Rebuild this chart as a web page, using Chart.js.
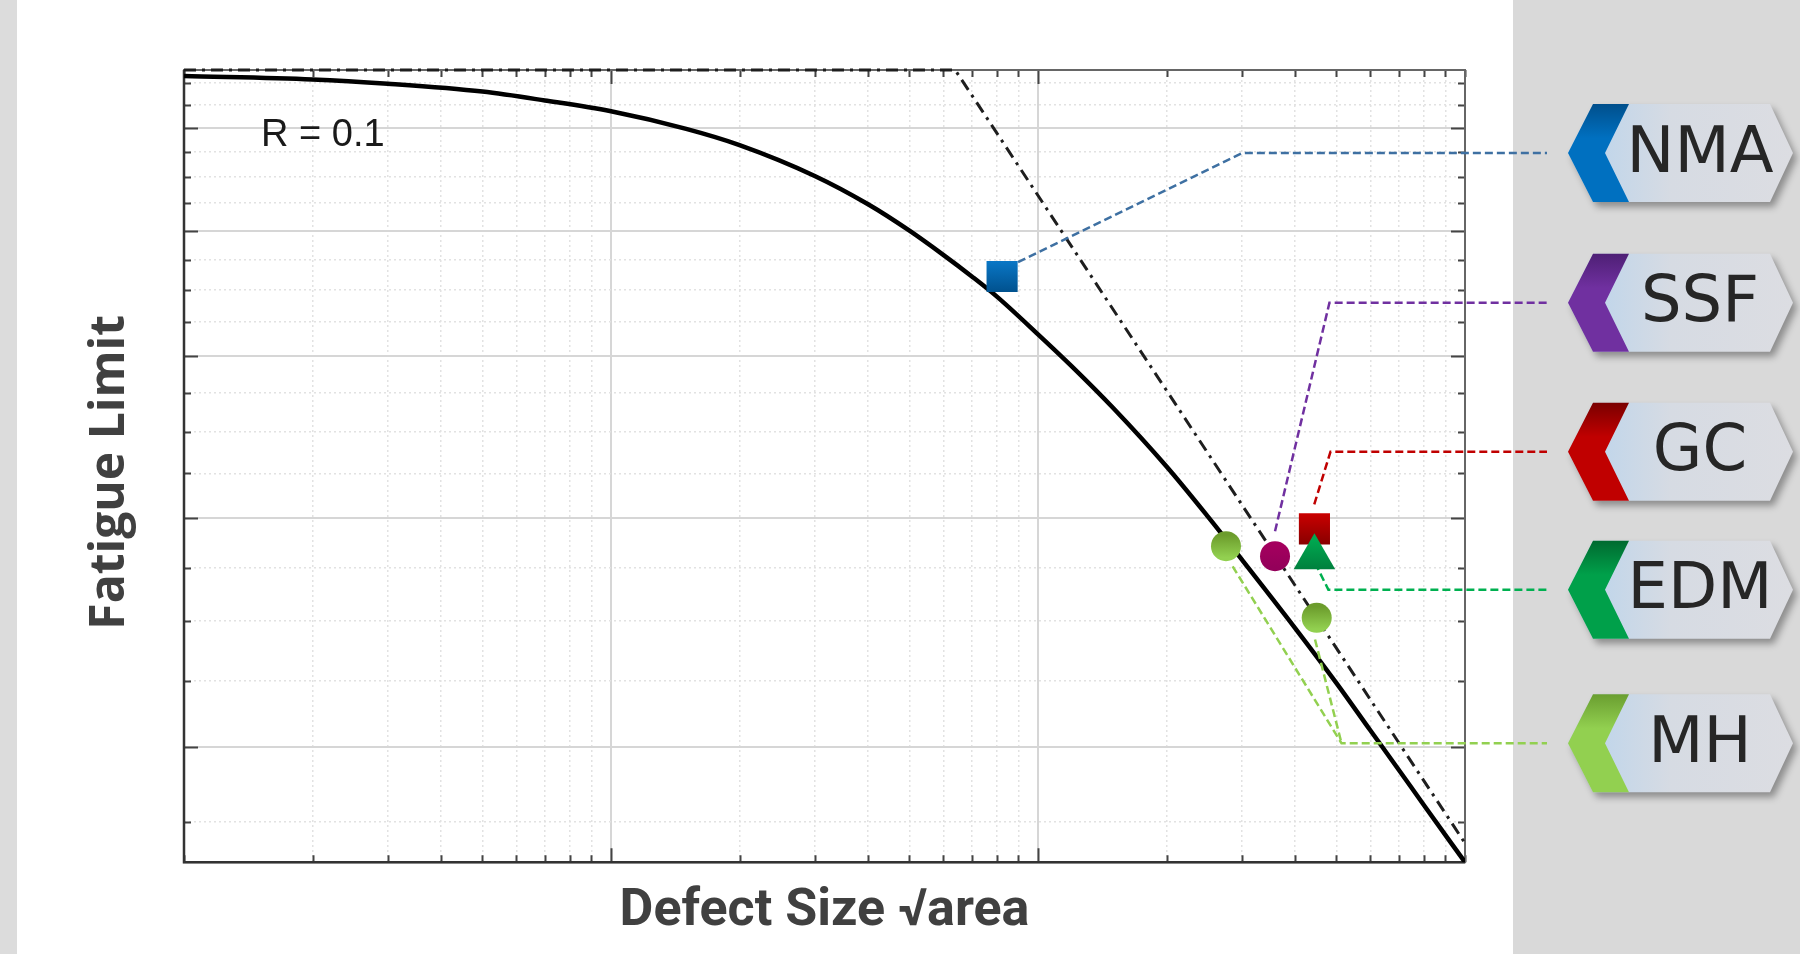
<!DOCTYPE html>
<html>
<head>
<meta charset="utf-8">
<script src="https://cdn.jsdelivr.net/npm/chart.js@4.4.1/dist/chart.umd.min.js"></script>
<style>
  html, body { margin: 0; padding: 0; }
  body {
    width: 1800px; height: 954px; overflow: hidden;
    background: linear-gradient(to right, #dcdcdc 0, #dcdcdc 17px, #ffffff 17px, #ffffff 1513px, #d9d9d9 1513px, #d9d9d9 1800px);
  }
  canvas { display: block; }
</style>
</head>
<body>
<canvas id="kt-chart" width="1800" height="954"></canvas>
<script>
// x axis: defect size sqrt(area), three decades on a log scale
const sizeTicks = [1, 2, 3, 4, 5, 6, 7, 8, 9, 10, 20, 30, 40, 50, 60, 70, 80, 90, 100, 200, 300, 400, 500, 600, 700, 800, 900, 1000]
const sizeMajor = [10, 100]
// y axis: fatigue limit, log scale, ticks every 25
const limitTicks = [175, 200, 225, 250, 275, 300, 325, 350, 375, 400, 425, 450, 475, 500, 525, 550, 575, 600, 625, 650]
const limitMajor = [200, 300, 400, 500, 600]

// solid curve
const curveSize = [1, 2, 3, 5, 7, 10, 15, 20, 30, 40, 50, 60, 70, 80, 100, 120, 150, 200, 250, 300, 400, 500, 600, 700, 800, 1000]
const curveLimit = [658, 654, 649, 640, 630, 618, 599, 582, 551, 524, 500, 479, 461, 445, 416, 393, 365, 329, 301, 279, 247, 224, 206, 192, 180.5, 163]

// dash-dot line: plain fatigue limit + slope line
const ktSize = [1, 64, 1000]
const ktLimit = [665, 665, 168.6]

// specimens
const nmaSize = [82.4], nmaLimit = [461]
const ssfSize = [359], ssfLimit = [280.6]
const gcSize = [444], gcLimit = [294.5]
const edmSize = [444], edmLimit = [280]
const mhSize = [275.6, 449.5], mhLimit = [285.6, 251.5]

// leader lines to the tags
const nmaLeadX = [89.8, 300.5, 1556], nmaLeadY = [472.8, 573.9, 573.9]
const ssfLeadX = [359, 481.4, 1556], ssfLeadY = [293.3, 439.9, 439.9]
const gcLeadX = [443.6, 484.2, 1556], gcLeadY = [307.6, 337.8, 337.8]
const edmLeadX = [445.4, 478.6, 1556], edmLeadY = [277.3, 264.4, 264.4]
const mhLeadX = [285.6, 513.9, 1556], mhLeadY = [275.6, 201.3, 201.3]
const mhLead2X = [445.4, 513.9], mhLead2Y = [242, 201.3]

const tagNames = ['NMA', 'SSF', 'GC', 'EDM', 'MH']
const tagLimit = [573.9, 439.9, 337.8, 264.4, 201.3]
const tagColors = ['#0070c0', '#7030a0', '#c00000', '#00a04a', '#92d050']
const tagDark = ['#004f8c', '#4e1f75', '#7a0000', '#006a30', '#6a9e30']

const zip = (xs, ys) => xs.map((x, i) => ({x: x, y: ys[i]}))

function vGrad(top, bottom) {
    return c => {
        const chart = c.chart
        if (c.type !== 'data' || !chart.chartArea) return bottom
        const y = chart.scales.y.getPixelForValue(c.parsed.y)
        const r = c.dataset.pointRadius
        const g = chart.ctx.createLinearGradient(0, y - r * 0.75, 0, y + r * 0.75)
        g.addColorStop(0, top)
        g.addColorStop(1, bottom)
        return g
    }
}

function marker(data, style, r, top, bottom) {
    return {
        data: data, showLine: false, pointStyle: style, pointRadius: r, pointHoverRadius: r,
        pointBackgroundColor: vGrad(top, bottom), pointBorderWidth: 0, order: 0
    }
}

function lead(data, color) {
    return {
        data: data, showLine: true, borderColor: color, borderWidth: 2.5, borderDash: [8, 4],
        pointRadius: 0, clip: false, order: 1
    }
}

/* frame with inward ticks on all four sides */
const frame = {
    id: 'frame',
    beforeDatasetsDraw(chart) {
        const {ctx, chartArea: a, scales} = chart
        ctx.save()
        ctx.strokeStyle = '#444'
        ctx.lineWidth = 2
        ctx.beginPath()
        sizeTicks.forEach(v => {
            const px = Math.round(scales.x.getPixelForValue(v)) + 0.5
            const len = sizeMajor.includes(v) ? 14 : 7
            ctx.moveTo(px, a.bottom); ctx.lineTo(px, a.bottom - len)
            ctx.moveTo(px, a.top); ctx.lineTo(px, a.top + len)
        })
        limitTicks.forEach(v => {
            const py = Math.round(scales.y.getPixelForValue(v)) + 0.5
            const len = limitMajor.includes(v) ? 14 : 7
            ctx.moveTo(a.left, py); ctx.lineTo(a.left + len, py)
            ctx.moveTo(a.right, py); ctx.lineTo(a.right - len, py)
        })
        ctx.stroke()
        ctx.strokeStyle = '#666'
        ctx.strokeRect(a.left, a.top, a.width, a.height)
        ctx.strokeStyle = '#333'
        ctx.lineWidth = 2.5
        ctx.beginPath()
        ctx.moveTo(a.left, a.top); ctx.lineTo(a.left, a.bottom); ctx.lineTo(a.right, a.bottom)
        ctx.stroke()
        ctx.restore()
    }
}

/* R = 0.1 note and the tags on the right */
const notes = {
    id: 'notes',
    afterDraw(chart) {
        const {ctx, chartArea: a, scales} = chart
        ctx.save()
        ctx.fillStyle = '#1a1a1a'
        ctx.font = '38px "Liberation Sans", Arial, sans-serif'
        ctx.textBaseline = 'alphabetic'
        ctx.fillText('R = 0.1', a.left + 77, a.top + 76)

        tagNames.forEach((name, i) => {
            const cy = scales.y.getPixelForValue(tagLimit[i])
            const h = 49
            const x0 = 1568, x1 = 1593, xc = 1605, x2 = 1629, x3 = 1770, x4 = 1793
            // light body with shadow
            ctx.save()
            ctx.shadowColor = 'rgba(0,0,0,0.35)'
            ctx.shadowBlur = 7
            ctx.shadowOffsetX = 4
            ctx.shadowOffsetY = 5
            ctx.beginPath()
            ctx.moveTo(x0, cy); ctx.lineTo(x1, cy - h); ctx.lineTo(x3, cy - h); ctx.lineTo(x4, cy)
            ctx.lineTo(x3, cy + h); ctx.lineTo(x1, cy + h); ctx.closePath()
            const g = ctx.createLinearGradient(xc, 0, x4, 0)
            g.addColorStop(0, '#c2d6ea')
            g.addColorStop(0.35, '#d6dbe3')
            g.addColorStop(1, '#dcdde2')
            ctx.fillStyle = g
            ctx.fill()
            ctx.restore()
            // coloured chevron
            ctx.beginPath()
            ctx.moveTo(x0, cy); ctx.lineTo(x1, cy - h); ctx.lineTo(x2, cy - h); ctx.lineTo(xc, cy)
            ctx.lineTo(x2, cy + h); ctx.lineTo(x1, cy + h); ctx.closePath()
            const cg = ctx.createLinearGradient(0, cy - h, 0, cy + h)
            cg.addColorStop(0, tagDark[i])
            cg.addColorStop(0.35, tagColors[i])
            cg.addColorStop(1, tagColors[i])
            ctx.fillStyle = cg
            ctx.fill()
            ctx.fillStyle = '#262626'
            ctx.font = '64px "DejaVu Sans", sans-serif'
            ctx.textAlign = 'center'
            ctx.textBaseline = 'middle'
            ctx.fillText(name, 1700, cy + 2)
        })
        ctx.restore()
    }
}

const logRange = (min, max, major) => ({
    type: 'logarithmic', min: min, max: max,
    afterBuildTicks: axis => { axis.ticks = major.map(v => ({value: v})) },
    ticks: {display: false},
    border: {display: false},
    grid: {drawTicks: false, color: '#d6d6d6', lineWidth: 2}
})

const minorAxis = (pos, min, max, values) => ({
    type: 'logarithmic', position: pos, min: min, max: max,
    afterBuildTicks: axis => { axis.ticks = values.map(v => ({value: v})) },
    ticks: {display: false},
    border: {display: false, dash: [2, 3]},
    grid: {drawTicks: false, color: '#e2e2e2', lineWidth: 1.5}
})

const xScale = logRange(1, 1000, sizeMajor)
xScale.position = 'bottom'
xScale.title = {
    display: true, text: 'Defect Size √area', color: '#404040',
    font: {family: 'Roboto', weight: 'bold', size: 52, lineHeight: 1.2},
    padding: {top: 19, bottom: 4}
}
const yScale = logRange(163, 665, limitMajor)
yScale.position = 'left'
yScale.title = {
    display: true, text: 'Fatigue Limit ', color: '#404040',
    font: {family: '"Open Sans"', weight: 'bold', size: 48, lineHeight: 1.2},
    padding: {top: 82, bottom: 44.4}
}

new Chart(document.getElementById('kt-chart'), {
    type: 'scatter',
    data: {
        datasets: [
            marker(zip(nmaSize, nmaLimit), 'rect', 22, '#0a78c8', '#00508c'),
            marker(zip(edmSize, edmLimit), 'triangle', 24, '#00a850', '#00783a'),
            marker(zip(gcSize, gcLimit), 'rect', 22, '#cc0000', '#860000'),
            marker(zip(ssfSize, ssfLimit), 'circle', 15, '#a4005e', '#94005a'),
            marker(zip(mhSize, mhLimit), 'circle', 15, '#6c9c2c', '#92d050'),
            lead(zip(nmaLeadX, nmaLeadY), '#3e70a2'),
            lead(zip(ssfLeadX, ssfLeadY), '#7030a0'),
            lead(zip(gcLeadX, gcLeadY), '#c00000'),
            lead(zip(edmLeadX, edmLeadY), '#00b050'),
            lead(zip(mhLeadX, mhLeadY), '#92d050'),
            lead(zip(mhLead2X, mhLead2Y), '#92d050'),
            {
                data: zip(curveSize, curveLimit), showLine: true, borderColor: '#000', borderWidth: 4.5,
                cubicInterpolationMode: 'monotone', pointRadius: 0, order: 2
            },
            {
                data: zip(ktSize, ktLimit), showLine: true, borderColor: '#1e1e1e', borderWidth: 3,
                borderDash: [12, 6, 3, 6], pointRadius: 0, clip: false, order: 2
            }
        ]
    },
    options: {
        responsive: false,
        animation: false,
        devicePixelRatio: 1,
        layout: {padding: {top: 70, right: 335, bottom: 6.4, left: 0}},
        plugins: {legend: {display: false}, tooltip: {enabled: false}},
        scales: {
            x: xScale,
            xm: minorAxis('bottom', 1, 1000, sizeTicks.filter(v => !sizeMajor.includes(v) && v !== 1 && v !== 1000)),
            y: yScale,
            ym: minorAxis('left', 163, 665, limitTicks.filter(v => !limitMajor.includes(v)))
        }
    },
    plugins: [frame, notes]
});
</script>
</body>
</html>
